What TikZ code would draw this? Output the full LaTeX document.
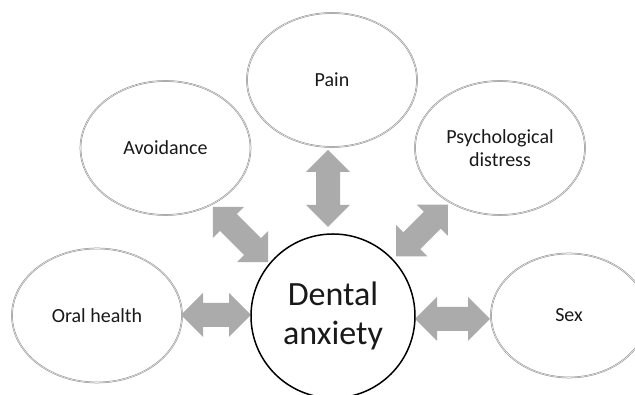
\documentclass[tikz,border=0pt]{standalone}
\usepackage{fontspec}
\setmainfont{Carlito}
\usetikzlibrary{shapes.geometric}
\definecolor{arrowgray}{RGB}{171,171,171}
\definecolor{txtgray}{RGB}{25,25,25}
\newcommand\blockarrow[4]{% #1 name, #2 center, #3 angle, #4 length
  \coordinate (#1) at #2;
  \begin{scope}[shift={(#1)}, rotate=#3]
    \fill[arrowgray] (-#4/2,0) -- (-#4/2+22,22) -- (-#4/2+22,12) -- (#4/2-22,12)
      -- (#4/2-22,22) -- (#4/2,0) -- (#4/2-22,-22) -- (#4/2-22,-12)
      -- (-#4/2+22,-12) -- (-#4/2+22,-22) -- cycle;
  \end{scope}}
\begin{document}
\begin{tikzpicture}[x=1pt,y=1pt,
  factor/.style={ellipse, draw=black!45, line width=0.5pt, double=black!8,
    double distance=0.6pt, fill=white,
    inner sep=0pt, minimum width=170pt, minimum height=134pt,
    text=txtgray, align=center, font=\fontsize{20}{23}\selectfont},
  centre/.style={circle, draw=black, line width=1.5pt, fill=white,
    inner sep=0pt, minimum size=164pt, text=txtgray, align=center,
    font=\fontsize{34}{39}\selectfont}]
\useasboundingbox (0,0) rectangle (635,395);
\fill[white] (0,0) rectangle (635,395);
% arrows
\blockarrow{arrL}{(216,80)}{0}{70}
\blockarrow{arrR}{(452.5,76)}{0}{75}
\blockarrow{arrT}{(328,206.5)}{90}{77}
\blockarrow{arrTL}{(240.5,160.5)}{-45}{78}
\blockarrow{arrTR}{(422,164.5)}{45}{73}
% nodes
\node[factor] (pain) at (332,315) {Pain};
\node[factor] (avoid) at (165.5,247) {Avoidance};
\node[factor] (psych) at (500,247) {Psychological\\distress};
\node[factor] (oral) at (97,79.5) {Oral health};
\node[factor, minimum width=156pt, minimum height=124pt] (sex) at (569,79.5) {Sex};
\node[centre] (dental) at (333,79) {Dental\\anxiety};
\end{tikzpicture}
\end{document}
